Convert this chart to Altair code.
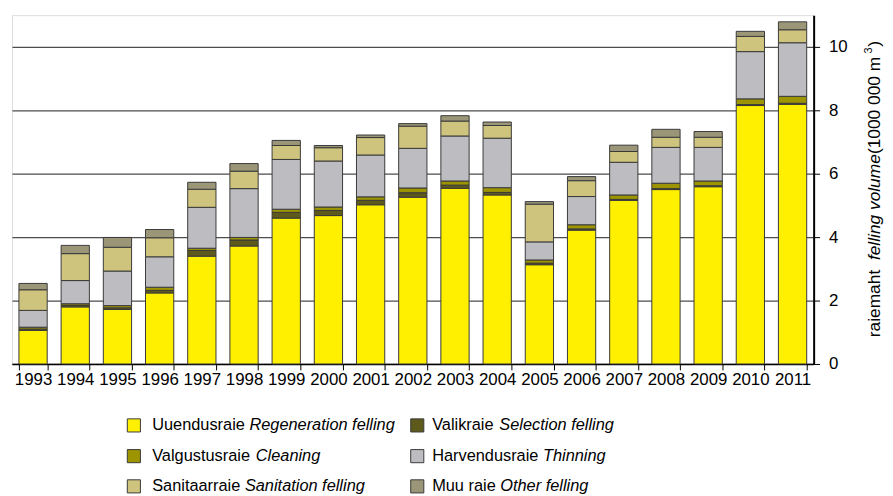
import altair as alt
import pandas as pd

# ---------------- data ----------------
years = [str(y) for y in range(1993, 2012)]
categories = ["Uuendusraie", "Valikraie", "Valgustusraie", "Harvendusraie", "Sanitaarraie", "Muu raie"]
english = ["Regeneration felling", "Selection felling", "Cleaning", "Thinning", "Sanitation felling", "Other felling"]
colors = ["#FFF000", "#5E5A1C", "#9C9400", "#BDBDC1", "#CEC47E", "#9B9677"]

uuendus   = [1.06, 1.80, 1.72, 2.24, 3.40, 3.72, 4.60, 4.68, 5.02, 5.26, 5.54, 5.33, 3.13, 4.22, 5.16, 5.50, 5.59, 8.15, 8.19]
valik     = [0.04, 0.05, 0.05, 0.08, 0.18, 0.19, 0.18, 0.16, 0.14, 0.14, 0.10, 0.08, 0.05, 0.04, 0.03, 0.03, 0.03, 0.03, 0.03]
valgustus = [0.06, 0.05, 0.07, 0.10, 0.07, 0.08, 0.10, 0.11, 0.11, 0.15, 0.13, 0.15, 0.10, 0.13, 0.14, 0.17, 0.15, 0.18, 0.22]
harvendus = [0.53, 0.73, 1.09, 0.96, 1.29, 1.54, 1.57, 1.45, 1.32, 1.25, 1.42, 1.56, 0.57, 0.89, 1.03, 1.13, 1.06, 1.49, 1.69]
sanitaar  = [0.65, 0.85, 0.75, 0.60, 0.57, 0.55, 0.44, 0.42, 0.55, 0.70, 0.47, 0.40, 1.19, 0.50, 0.34, 0.32, 0.32, 0.48, 0.41]
muu       = [0.20, 0.26, 0.31, 0.26, 0.22, 0.24, 0.16, 0.07, 0.08, 0.08, 0.17, 0.11, 0.08, 0.13, 0.20, 0.25, 0.18, 0.16, 0.25]

series = [uuendus, valik, valgustus, harvendus, sanitaar, muu]
y_ticks = [0, 2, 4, 6, 8, 10]

FONT = "Liberation Sans"

rows = []
for i, (cat, vals) in enumerate(zip(categories, series)):
    for yr, v in zip(years, vals):
        rows.append({"year": yr, "cat": cat, "idx": i, "value": v})
df = pd.DataFrame(rows)

# ---------------- text width helper (Arial metrics) ----------------
_W = {" ": 278, "(": 333, ")": 333}
for d in "0123456789":
    _W[d] = 556
_W.update({"a": 556, "b": 556, "c": 500, "d": 556, "e": 556, "f": 278, "g": 556, "h": 556,
           "i": 222, "j": 222, "k": 500, "l": 222, "m": 833, "n": 556, "o": 556, "p": 556,
           "q": 556, "r": 333, "s": 500, "t": 278, "u": 556, "v": 500, "w": 722, "x": 500,
           "y": 500, "z": 500, "U": 722, "V": 667, "S": 667, "H": 722, "M": 833, "R": 722,
           "C": 722, "T": 611, "O": 778})


def tw(s, size):
    return sum(_W.get(c, 556) for c in s) * size / 1000.0


W, H = 809, 352

# ---------------- bars ----------------
bars = alt.Chart(df).mark_bar(stroke="#3a3a3a", strokeWidth=1).encode(
    x=alt.X("year:N", sort=years, title=None,
            scale=alt.Scale(paddingInner=0.33),
            axis=alt.Axis(labelAngle=0, tickBand="extent", tickSize=6, tickColor="black",
                          domainColor="black", domainWidth=1.5, labelFont=FONT, labelFontSize=17,
                          labelColor="black", labelPadding=2, grid=False)),
    y=alt.Y("value:Q", stack="zero", title=None,
            scale=alt.Scale(domain=[0, 11], nice=False, zero=True),
            axis=alt.Axis(orient="right", values=y_ticks, grid=True, gridColor="#4d4d4d",
                          gridWidth=1.2, tickSize=6, tickColor="black", domainColor="black",
                          domainWidth=2, labelFont=FONT, labelFontSize=17, labelColor="black",
                          labelPadding=9)),
    color=alt.Color("cat:N", scale=alt.Scale(domain=categories, range=colors), legend=None),
    order=alt.Order("idx:Q", sort="ascending"),
)

# ---------------- custom legend (mixed roman / italic) ----------------
LEG_FS = 16.5
row_y = [414, 445, 475.5]
col_sq = [123, 409]
col_tx = [141.5, 424]
leg_rows = []
for i, (cat, eng, col) in enumerate(zip(categories, english, colors)):
    r, c = i // 2, i % 2
    leg_rows.append({"est": cat, "eng": eng, "color": col,
                     "sx": col_sq[c], "tx": col_tx[c],
                     "ex": col_tx[c] + tw(cat + " ", LEG_FS), "y": row_y[r]})
leg = pd.DataFrame(leg_rows)

leg_sq = alt.Chart(leg).mark_square(size=175, opacity=1, stroke="#3a3a3a", strokeWidth=1).encode(
    x=alt.X("sx:Q", scale=None), y=alt.Y("y:Q", scale=None),
    fill=alt.Fill("color:N", scale=None))
leg_est = alt.Chart(leg).mark_text(align="left", baseline="middle", font=FONT,
                                   fontSize=LEG_FS, color="black").encode(
    x=alt.X("tx:Q", scale=None), y=alt.Y("y:Q", scale=None), text="est:N")
leg_eng = alt.Chart(leg).mark_text(align="left", baseline="middle", font=FONT, fontStyle="italic",
                                   fontSize=LEG_FS, color="black").encode(
    x=alt.X("ex:Q", scale=None), y=alt.Y("y:Q", scale=None), text="eng:N")

# ---------------- y title (rotated, mixed style) ----------------
TFS = 17.5
pieces = [("raiemaht  ", "normal", TFS, 0, 0), ("felling volume", "italic", TFS, 0, 0),
          (" (1000 000 m", "normal", TFS, 0, 0), ("3", "normal", 11, -6, 1.5), (")", "normal", TFS, 0, 1)]
t_rows = []
ypos = 325.0
for txt, style, fs, dx, dy in pieces:
    t_rows.append({"t": txt, "style": style, "fs": fs, "x": 871 + dx, "y": ypos + dy})
    ypos -= tw(txt, fs)
tdf = pd.DataFrame(t_rows)

title_layers = []
for style in ["normal", "italic"]:
    for fs in sorted(set(tdf["fs"])):
        sub = tdf[(tdf["style"] == style) & (tdf["fs"] == fs)]
        if len(sub) == 0:
            continue
        title_layers.append(
            alt.Chart(sub).mark_text(align="left", baseline="middle", angle=270, font=FONT,
                                     fontStyle=style, fontSize=float(fs), color="black").encode(
                x=alt.X("x:Q", scale=None), y=alt.Y("y:Q", scale=None), text="t:N"))

chart = alt.layer(bars, leg_sq, leg_est, leg_eng, *title_layers).properties(
    width=W, height=H,
    autosize=alt.AutoSizeParams(type="none"),
    padding={"left": 4, "top": 5, "right": 72, "bottom": 130},
).configure_view(stroke="black", strokeWidth=2).configure(background="white")

chart.save("out.html", embed_options={"renderer": "svg", "actions": False})
